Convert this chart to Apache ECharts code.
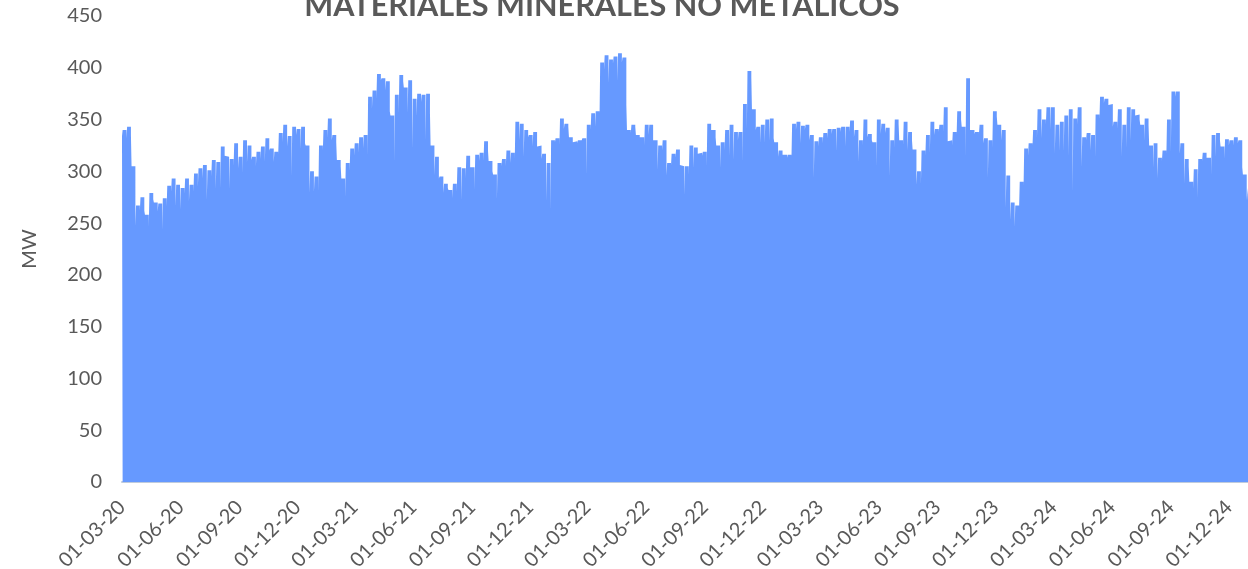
<!DOCTYPE html>
<html>
<head>
<meta charset="utf-8">
<script src="https://cdn.jsdelivr.net/npm/echarts@6/dist/echarts.min.js"></script>
<style>
html,body{margin:0;padding:0;background:#fff;}
#c{width:1248px;height:569px;}
</style>
</head>
<body>
<div id="c"></div>
<script>
// Daily series 01-03-2020 .. 31-12-2024, read week by week:
// weekHigh[k]  = level Monday..Saturday of week k (week 0 starts Mon 02-03-2020)
// weekLow[k]   = Sunday closing week k
const startDate = '2020-03-01';
const endDate = '2024-12-31';
const firstDayValue = 334;   // Sunday 01-03-2020
const lastDayValue = 272;    // Tuesday 31-12-2024
const weekHigh = [
340,343,305,267,275,258,279,270,269,274,286,293,287,284,293,287,298,303,306,301,
311,309,324,314,312,327,314,330,325,314,319,324,332,322,319,337,345,334,343,341,
343,325,300,295,325,340,351,335,311,293,308,322,327,333,335,372,378,394,390,387,
354,374,393,381,388,370,375,374,375,325,314,295,288,282,288,304,303,315,304,316,
318,329,310,297,308,312,320,318,348,346,340,335,338,325,317,308,330,332,351,346,
333,329,330,332,345,356,358,405,412,408,411,414,410,340,345,335,333,345,345,330,
325,330,308,317,321,305,305,325,323,318,319,346,340,325,328,340,345,338,338,365,
397,360,343,345,350,351,328,320,316,316,346,348,344,345,335,329,333,337,341,341,
342,343,343,349,340,330,350,336,328,350,346,342,330,350,330,348,338,321,300,320,
335,348,341,345,362,330,338,358,343,390,340,338,345,332,330,358,345,340,296,270,
267,290,322,327,340,360,350,362,362,345,348,354,360,351,362,333,337,335,355,372,
370,365,348,360,345,362,360,355,345,351,325,327,313,320,350,377,377,327,312,290,
302,312,318,313,335,337,324,331,330,333,330,297,284
];
const weekLow = [
332,335,247,262,262,246,273,261,243,266,280,266,263,278,271,280,285,293,272,295,
283,283,315,283,305,303,298,308,311,305,312,309,320,309,316,328,324,295,335,321,
327,279,280,280,320,332,330,328,305,275,300,315,318,322,314,360,370,388,378,358,
308,356,387,356,321,353,367,330,356,296,293,279,284,274,280,272,293,304,282,310,
310,320,300,272,305,305,308,312,330,314,333,324,324,312,271,261,328,325,341,343,
328,327,330,296,340,343,355,398,385,404,387,405,364,337,343,333,325,335,330,301,
320,296,305,313,306,277,296,303,317,315,304,340,333,303,320,314,311,330,308,340,
391,340,327,327,329,332,314,316,313,313,340,327,340,330,293,324,327,332,336,319,
338,324,338,333,309,325,333,330,304,336,337,295,322,346,325,320,330,287,287,315,
317,335,338,338,329,325,335,350,313,340,336,336,327,293,322,353,330,264,253,246,
265,285,315,325,332,332,345,340,317,319,319,314,279,345,304,330,320,311,350,366,
364,343,341,314,322,329,354,350,329,345,303,293,310,316,317,372,317,288,305,283,
274,310,313,296,314,330,312,325,325,327,304,272
];
const tickLabels = ['01-03-20','01-06-20','01-09-20','01-12-20','01-03-21','01-06-21','01-09-21','01-12-21',
  '01-03-22','01-06-22','01-09-22','01-12-22','01-03-23','01-06-23','01-09-23','01-12-23',
  '01-03-24','01-06-24','01-09-24','01-12-24'];
const yTicks = [0,50,100,150,200,250,300,350,400,450];
const titleText = 'MATERIALES MINERALES NO METALICOS';
const yName = 'MW';

// build daily category axis
function pad(n){return (n<10?'0':'')+n;}
const days = [];
{
  const d = new Date(startDate+'T00:00:00Z');
  const e = new Date(endDate+'T00:00:00Z');
  while (d <= e) {
    days.push(pad(d.getUTCDate())+'-'+pad(d.getUTCMonth()+1)+'-'+String(d.getUTCFullYear()).slice(2));
    d.setUTCDate(d.getUTCDate()+1);
  }
}
// points: [dayIndex, value]
const pts = [[0, firstDayValue]];
for (let k = 0; k < weekHigh.length; k++) {
  const mon = 1 + 7*k;
  if (mon < days.length) pts.push([mon, weekHigh[k]]);
  if (k < weekLow.length) pts.push([mon + 6, weekLow[k]]);
}
pts.push([days.length-1, lastDayValue]);

const font = 'Lato, "Open Sans", sans-serif';
const chart = echarts.init(document.getElementById('c'), null, {renderer:'canvas'});
chart.setOption({
  animation: false,
  backgroundColor: '#ffffff',
  title: {
    text: titleText,
    left: 597, top: -14,
    textAlign: 'center',
    textStyle: {fontFamily: font, fontWeight: 'bold', fontSize: 30.6, color: '#595959'}
  },
  grid: {left: 122, right: 0, top: 16, bottom: 87, containLabel: false, outerBoundsMode: 'none'},
  xAxis: {
    type: 'category',
    data: days,
    boundaryGap: false,
    axisLine: {show: true, lineStyle: {color: '#bfcbdc', width: 2}},
    axisTick: {show: false},
    splitLine: {show: false},
    axisLabel: {
      interval: function(i, v){ return tickLabels.indexOf(v) >= 0; },
      rotate: 45,
      margin: 22,
      fontFamily: font, fontSize: 20, color: '#595959'
    }
  },
  yAxis: {
    type: 'value',
    min: yTicks[0], max: yTicks[yTicks.length-1], interval: 50,
    name: yName,
    nameLocation: 'middle',
    nameGap: 82,
    nameTextStyle: {fontFamily: font, fontSize: 20, color: '#595959'},
    axisLine: {show: false},
    axisTick: {show: false},
    splitLine: {show: false},
    axisLabel: {margin: 20, fontFamily: font, fontSize: 20, color: '#595959'}
  },
  series: [{
    type: 'line',
    data: pts,
    step: 'end',
    showSymbol: false,
    symbol: 'none',
    lineStyle: {width: 0, color: '#6699ff'},
    areaStyle: {color: '#6699ff', opacity: 1},
    z: 1
  }]
});
</script>
</body>
</html>
